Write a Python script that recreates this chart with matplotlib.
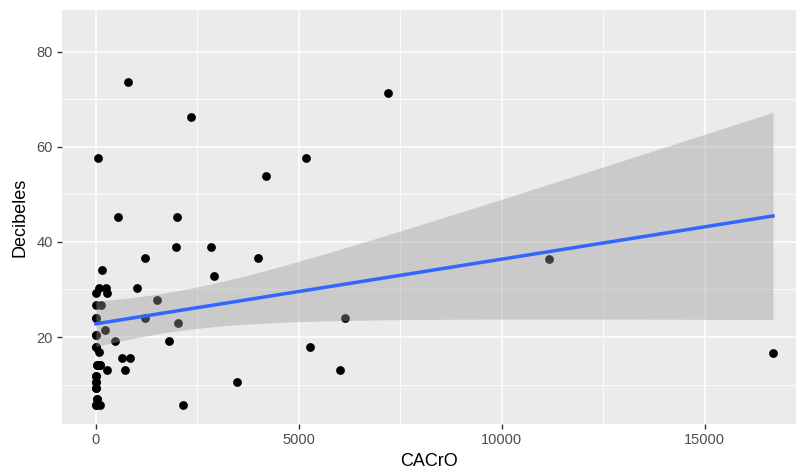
import numpy as np
import matplotlib
matplotlib.use("Agg")
import matplotlib.pyplot as plt

# Data (the last ten are points hidden
# under visible ones in the stack at CACrO ~ 0)
cacro = [801, 2347, 7195, 54, 5182, 4196, 538, 1993, 1976, 2840,
         1213, 3990, 2922, 153, 80, 245, 5, 270, 10, 130,
         0, 234, 5, 5, 86, 20, 100, 284, 0, 0,
         0, 20, 0, 100, 646, 843, 720, 1006, 1516, 1203,
         2017, 1812, 6144, 5264, 6021, 3471, 2157, 11156, 16680, 483,
         0, 20, 0, 0, 0, 20, 100, 5, 5, 0]
decibeles = [73.7, 66.3, 71.3, 57.6, 57.6, 53.9, 45.2, 45.2, 38.9, 38.9,
             36.6, 36.6, 32.8, 34.0, 30.4, 30.4, 29.2, 29.2, 26.7, 26.7,
             24.1, 21.5, 20.4, 18.0, 16.8, 14.2, 14.2, 13.0, 11.8, 10.6,
             9.2, 6.9, 5.7, 5.7, 15.5, 15.5, 13.0, 30.4, 27.8, 24.1,
             22.9, 19.2, 24.1, 17.9, 13.1, 10.5, 5.6, 36.4, 16.7, 19.2,
             5.7, 6.9, 9.2, 10.6, 11.8, 14.2, 14.2, 18.0, 20.4, 24.1]
x_ticks = [0, 5000, 10000, 15000]
y_ticks = [20, 40, 60, 80]

x = np.array(cacro, dtype=float)
y = np.array(decibeles, dtype=float)

# Linear fit with 95% confidence band (like geom_smooth(method = "lm"))
n = len(x)
slope, intercept = np.polyfit(x, y, 1)
resid = y - (intercept + slope * x)
s = np.sqrt(np.sum(resid ** 2) / (n - 2))
xbar = x.mean()
sxx = np.sum((x - xbar) ** 2)
df = n - 2
z = 1.959964
tq = z + (z**3 + z) / (4 * df) + (5 * z**5 + 16 * z**3 + 3 * z) / (96 * df**2)
xs = np.linspace(x.min(), x.max(), 80)
ys = intercept + slope * xs
se = s * np.sqrt(1.0 / n + (xs - xbar) ** 2 / sxx)

fig = plt.figure(figsize=(7.96, 4.73), dpi=100)
ax = fig.add_axes([62 / 796, 49 / 473, 734 / 796, 414 / 473])
ax.set_facecolor("#EBEBEB")
for sp in ax.spines.values():
    sp.set_visible(False)

ax.scatter(x, y, s=40, color="black", zorder=3, linewidths=0)
ax.fill_between(xs, ys - tq * se, ys + tq * se, color="#999999", alpha=0.4,
                linewidth=0, zorder=4)
ax.plot(xs, ys, color="#3366FF", lw=2.5, zorder=5)

ax.set_xlim(-834, 17246)
ax.set_ylim(1.7, 88.8)
ax.set_xticks(x_ticks)
ax.set_yticks(y_ticks)
ax.set_xticks([2500, 7500, 12500], minor=True)
ax.set_yticks([10, 30, 50, 70], minor=True)
ax.grid(which="major", color="white", lw=1.1, zorder=0)
ax.grid(which="minor", color="white", lw=0.55, zorder=0)
ax.set_axisbelow(True)
ax.tick_params(which="major", length=3.5, width=1.0, color="#333333",
               labelcolor="#4D4D4D", labelsize=10.5, pad=3)
ax.tick_params(which="minor", length=0)
for lab in ax.get_xticklabels() + ax.get_yticklabels():
    lab.set_family("Liberation Sans")

ax.set_xlabel("CACrO", fontsize=13, family="Liberation Sans", labelpad=4)
ax.set_ylabel("Decibeles", fontsize=13, family="Liberation Sans", labelpad=6)

fig.savefig("out.png", dpi=100)
